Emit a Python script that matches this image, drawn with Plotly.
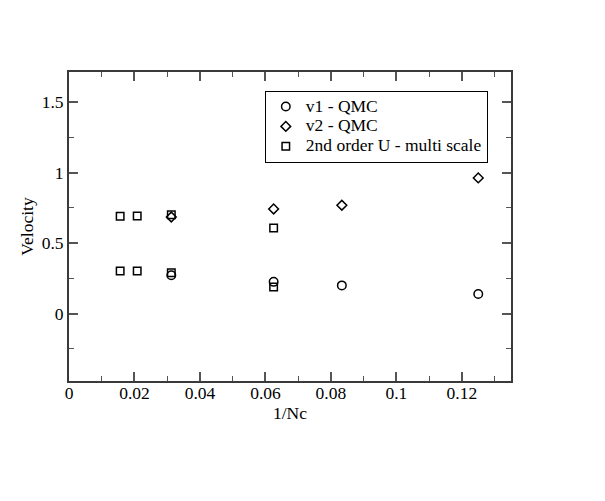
import plotly.graph_objects as go

# data
v1_x = [1/32, 1/16, 1/12, 1/8]
v1_y = [0.272, 0.225, 0.200, 0.139]

v2_x = [1/32, 1/16, 1/12, 1/8]
v2_y = [0.685, 0.742, 0.768, 0.962]

ms_x = [1/64, 1/48, 1/32, 1/16, 1/64, 1/48, 1/32, 1/16]
ms_y = [0.690, 0.692, 0.700, 0.607, 0.302, 0.302, 0.290, 0.189]

font = "Liberation Serif, Times New Roman, serif"
ink = "#000000"
fsize = 17.5


def marker(symbol, size):
    return dict(symbol=symbol, size=size, color="rgba(0,0,0,0)",
                line=dict(color=ink, width=1.5))


def label(s):
    # legend rows are spaced from the legend font size, text drawn bigger
    return f'<span style="font-size:{fsize}px">{s}</span>'


fig = go.Figure()
fig.add_trace(go.Scatter(x=v1_x, y=v1_y, mode="markers", name=label("v1 - QMC"),
                         marker=marker("circle", 8.5)))
fig.add_trace(go.Scatter(x=v2_x, y=v2_y, mode="markers", name=label("v2 - QMC"),
                         marker=marker("diamond", 7.5)))
fig.add_trace(go.Scatter(x=ms_x, y=ms_y, mode="markers",
                         name=label("2nd order U - multi scale"),
                         marker=marker("square", 7.5)))

axis_common = dict(
    showgrid=False, zeroline=False,
    showline=True, linecolor="#3a3a3a", linewidth=2,
    mirror="allticks", ticks="inside", ticklen=9, tickwidth=1.5,
    tickcolor="#555555",
    tickfont=dict(family=font, size=fsize, color=ink),
)

# page body adds an 8px offset, so the figure is 8px smaller and margins shifted
fig.update_layout(
    width=597, height=493,
    margin=dict(l=61, r=94, t=64, b=120),
    plot_bgcolor="white", paper_bgcolor="white",
    font=dict(family=font, size=fsize, color=ink),
    showlegend=True,
    legend=dict(x=0.443, y=0.94, xanchor="left", yanchor="top",
                bordercolor=ink, borderwidth=1, bgcolor="white",
                font=dict(family=font, size=13, color=ink),
                tracegroupgap=0, itemwidth=30),
    xaxis=dict(
        range=[0, 0.135], tickvals=[0, 0.02, 0.04, 0.06, 0.08, 0.1, 0.12],
        ticktext=["0", "0.02", "0.04", "0.06", "0.08", "0.1", "0.12"],
        minor=dict(ticks="inside", ticklen=5, tickwidth=1.2, tickcolor="#555555",
                   dtick=0.01, tick0=0, showgrid=False),
        ticklabelstandoff=-5,
        title=dict(text="1/Nc", standoff=0, font=dict(family=font, size=fsize)),
        **axis_common,
    ),
    yaxis=dict(
        range=[-0.478, 1.713], tickvals=[0, 0.5, 1, 1.5],
        ticktext=["0", "0.5", "1", "1.5"],
        minor=dict(ticks="inside", ticklen=5, tickwidth=1.2, tickcolor="#555555",
                   dtick=0.25, tick0=0, showgrid=False),
        title=dict(text="Velocity", standoff=4, font=dict(family=font, size=fsize)),
        **axis_common,
    ),
)

fig.write_html("out.html")
